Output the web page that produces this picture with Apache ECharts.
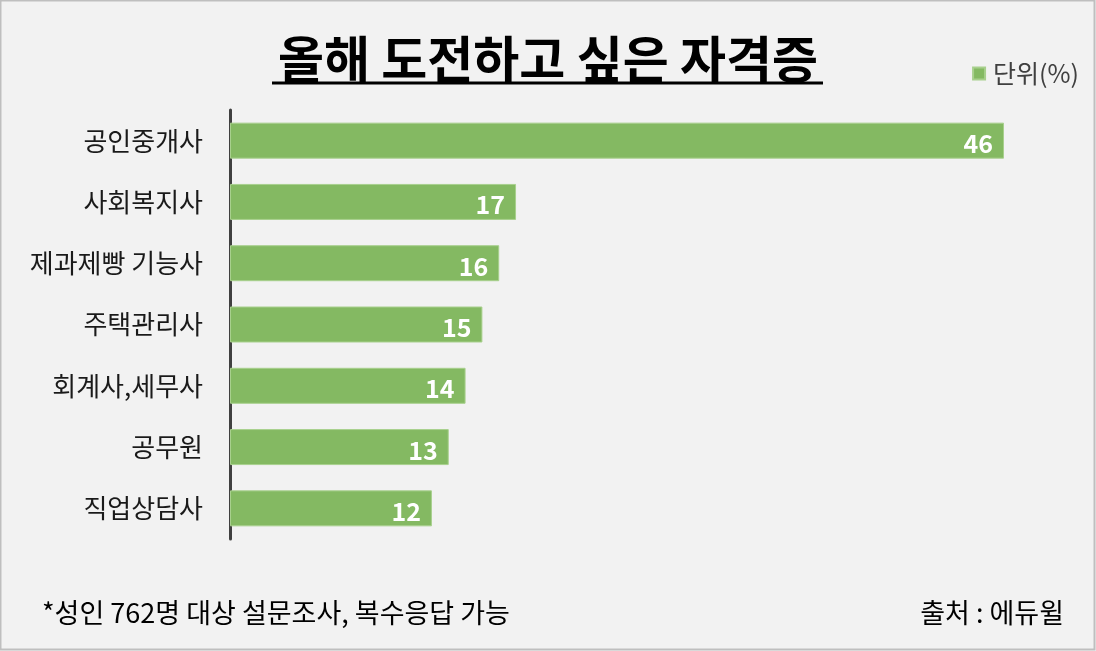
<!DOCTYPE html>
<html>
  <head>
    <meta charset="utf-8" />
    <title>올해 도전하고 싶은 자격증</title>
    <script src="https://cdn.jsdelivr.net/npm/echarts@6/dist/echarts.min.js"></script>
    <style>
      html, body { margin: 0; padding: 0; background: #f2f2f2; }
    </style>
  </head>
  <body>
    <div id="main" style="width: 1096px; height: 651px"></div>
  </body>

  <script>
    // 데이터
    var categories = ["공인중개사", "사회복지사", "제과제빵 기능사", "주택관리사", "회계사,세무사", "공무원", "직업상담사"];
    var values = [46, 17, 16, 15, 14, 13, 12];

    var fontKR = "'Noto Sans CJK KR', 'Noto Sans', sans-serif";
    var myChart = echarts.init(document.getElementById("main"));

    var option = {
      backgroundColor: "#f2f2f2",
      animation: false,
      textStyle: { fontFamily: fontKR },
      legend: {
        data: ["단위(%)"],
        right: 12,
        top: 56,
        icon: "rect",
        itemWidth: 12,
        itemHeight: 12,
        itemGap: 8,
        textStyle: { fontSize: 25, color: "#404040", fontFamily: fontKR, padding: [0, 0, 0, 3] },
      },
      grid: {
        left: 230,
        top: 110,
        width: 774,
        height: 429,
        containLabel: false,
      },
      xAxis: {
        type: "value",
        min: 0,
        max: 46,
        show: false,
      },
      yAxis: {
        type: "category",
        data: categories,
        inverse: true,
        axisLine: { show: true, lineStyle: { color: "#404040", width: 3 } },
        axisTick: { show: false },
        axisLabel: { fontSize: 26, color: "#1a1a1a", margin: 27 },
      },
      series: [
        {
          name: "단위(%)",
          type: "bar",
          data: values,
          barWidth: 36,
          itemStyle: { color: "#84b962", borderColor: "#a8d08d", borderWidth: 1 },
          label: {
            show: true,
            position: "insideRight",
            offset: [-6, 3],
            color: "#ffffff",
            fontSize: 25,
            fontWeight: "bold",
          },
        },
      ],
      graphic: [
        {
          type: "rect",
          shape: { x: 0.5, y: 0.5, width: 1094, height: 649 },
          style: { fill: "none", stroke: "#bfbfbf", lineWidth: 2 },
          silent: true,
        },
        {
          type: "text",
          x: 548,
          y: 59,
          style: {
            text: "올해 도전하고 싶은 자격증",
            fontSize: 50,
            fontWeight: "bold",
            fill: "#000000",
            align: "center",
            verticalAlign: "middle",
            fontFamily: fontKR,
          },
        },
        {
          type: "line",
          shape: { x1: 272, y1: 83, x2: 823, y2: 83 },
          style: { stroke: "#000000", lineWidth: 3 },
        },
        {
          type: "text",
          x: 42,
          y: 613,
          style: {
            text: "*성인 762명 대상 설문조사, 복수응답 가능",
            fontSize: 27,
            fill: "#000000",
            verticalAlign: "middle",
            fontFamily: fontKR,
          },
        },
        {
          type: "text",
          x: 1064,
          y: 613,
          style: {
            text: "출처 : 에듀윌",
            fontSize: 27,
            fill: "#000000",
            align: "right",
            verticalAlign: "middle",
            fontFamily: fontKR,
          },
        },
      ],
    };

    myChart.setOption(option);
  </script>
</html>
